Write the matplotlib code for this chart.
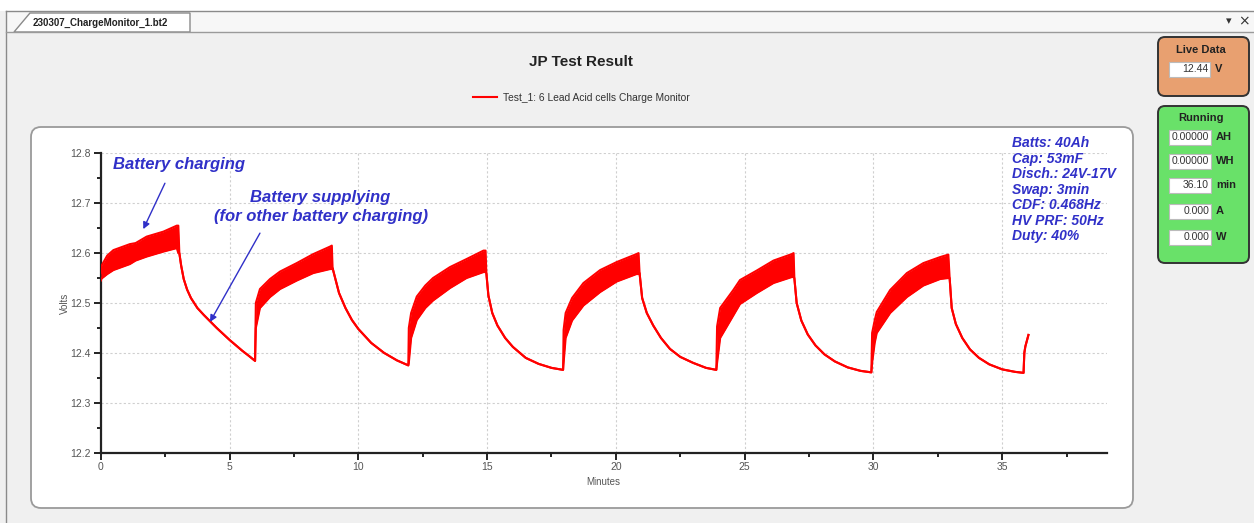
import matplotlib
matplotlib.use("Agg")
import matplotlib.pyplot as plt
from matplotlib.patches import FancyBboxPatch, Rectangle, Polygon
import numpy as np

plt.rcParams['font.family'] = ['Liberation Sans', 'DejaVu Sans']

# ---------------- data: minutes, lower / upper envelope of the volts trace ----------------
# (during discharge the trace is a single line, so lower == upper)
minutes = [
    0.00, 0.03, 0.25, 0.49, 1.13, 1.35, 1.78, 2.43, 2.95, 3.01,
    3.05, 3.12, 3.22, 3.35, 3.50, 3.75, 4.00, 4.25, 4.50, 4.75, 5.00, 5.25, 5.50, 5.75, 5.99,
    6.02, 6.18, 6.57, 6.96, 7.61, 8.25, 8.90, 8.97,
    9.00, 9.10, 9.25, 9.50, 9.75, 10.00, 10.50, 11.00, 11.50, 11.94,
    11.96, 12.05, 12.27, 12.60, 12.90, 13.56, 14.20, 14.86, 14.94,
    14.97, 15.05, 15.20, 15.40, 15.70, 16.00, 16.50, 17.00, 17.50, 17.95,
    17.97, 18.05, 18.30, 18.74, 19.39, 20.03, 20.80, 20.88,
    20.92, 21.02, 21.20, 21.45, 21.75, 22.10, 22.50, 23.00, 23.50, 23.90,
    23.93, 24.05, 24.56, 24.82, 25.47, 26.12, 26.83, 26.90,
    26.93, 27.02, 27.20, 27.45, 27.75, 28.10, 28.50, 29.00, 29.50, 29.92,
    29.95, 30.05, 30.13, 30.65, 31.30, 31.94, 32.59, 32.91,
    32.96, 33.04, 33.20, 33.45, 33.75, 34.10, 34.50, 35.00, 35.50, 35.83,
    35.86, 35.90, 36.02]
volts_low = [
    12.545, 12.549, 12.558, 12.566, 12.578, 12.585, 12.593, 12.603, 12.610, 12.600,
    12.600, 12.575, 12.548, 12.527, 12.510, 12.490, 12.476, 12.463, 12.450, 12.438, 12.426, 12.415, 12.404, 12.394, 12.384,
    12.450, 12.490, 12.512, 12.528, 12.545, 12.560, 12.568, 12.568,
    12.570, 12.550, 12.520, 12.490, 12.466, 12.448, 12.420, 12.400, 12.385, 12.375,
    12.380, 12.430, 12.466, 12.490, 12.505, 12.530, 12.550, 12.562, 12.562,
    12.560, 12.515, 12.480, 12.455, 12.430, 12.412, 12.390, 12.378, 12.370, 12.366,
    12.380, 12.430, 12.465, 12.495, 12.522, 12.543, 12.558, 12.558,
    12.560, 12.510, 12.480, 12.455, 12.430, 12.408, 12.392, 12.380, 12.370, 12.366,
    12.380, 12.430, 12.475, 12.498, 12.520, 12.540, 12.552, 12.552,
    12.550, 12.500, 12.465, 12.437, 12.415, 12.397, 12.383, 12.371, 12.364, 12.361,
    12.380, 12.420, 12.440, 12.480, 12.512, 12.535, 12.548, 12.550,
    12.550, 12.490, 12.458, 12.430, 12.407, 12.390, 12.377, 12.367, 12.362, 12.360,
    12.400, 12.413, 12.436]
volts_high = [
    12.560, 12.575, 12.595, 12.606, 12.618, 12.620, 12.633, 12.643, 12.655, 12.655,
    12.600, 12.575, 12.548, 12.527, 12.510, 12.490, 12.476, 12.463, 12.450, 12.438, 12.426, 12.415, 12.404, 12.394, 12.384,
    12.500, 12.528, 12.548, 12.563, 12.580, 12.598, 12.613, 12.615,
    12.570, 12.550, 12.520, 12.490, 12.466, 12.448, 12.420, 12.400, 12.385, 12.375,
    12.450, 12.480, 12.513, 12.535, 12.550, 12.572, 12.588, 12.605, 12.605,
    12.560, 12.515, 12.480, 12.455, 12.430, 12.412, 12.390, 12.378, 12.370, 12.366,
    12.446, 12.480, 12.510, 12.540, 12.566, 12.582, 12.598, 12.600,
    12.560, 12.510, 12.480, 12.455, 12.430, 12.408, 12.392, 12.380, 12.370, 12.366,
    12.453, 12.490, 12.526, 12.546, 12.565, 12.585, 12.598, 12.600,
    12.550, 12.500, 12.465, 12.437, 12.415, 12.397, 12.383, 12.371, 12.364, 12.361,
    12.440, 12.465, 12.482, 12.526, 12.560, 12.580, 12.592, 12.597,
    12.550, 12.490, 12.458, 12.430, 12.407, 12.390, 12.377, 12.367, 12.362, 12.360,
    12.400, 12.413, 12.436]

x_ticks = [0, 5, 10, 15, 20, 25, 30, 35]
y_ticks = [12.2, 12.3, 12.4, 12.5, 12.6, 12.7, 12.8]

info_lines = ["Batts: 40Ah", "Cap: 53mF", "Disch.: 24V-17V", "Swap: 3min",
              "CDF: 0.468Hz", "HV PRF: 50Hz", "Duty: 40%"]
live_value = "12.44"
running_values = ["0.00000", "0.00000", "36.10", "0.000", "0.000"]
running_units = ["AH", "WH", "min", "A", "W"]

series_label = "Test_1: 6 Lead Acid cells Charge Monitor"
title = "JP Test Result"

RED = '#ff0000'
BLUE = '#3030c8'

# ---------------- figure & window chrome (pixel coordinates) ----------------
W, H = 1254, 523
fig = plt.figure(figsize=(W / 100, H / 100), dpi=100, facecolor='#f0f0f0')
bg = fig.add_axes([0, 0, 1, 1], zorder=0)
bg.set_xlim(0, W)
bg.set_ylim(H, 0)
bg.axis('off')

bg.add_patch(Rectangle((0, 0), W, 11, fc='white', ec='none'))
bg.add_patch(Rectangle((6, 11), W - 6, 21, fc='#f7f7f7', ec='none'))
bg.plot([6, W], [11, 11], color='#8a8a8a', lw=1)
bg.plot([6, 6], [11, H], color='#8a8a8a', lw=1)
bg.plot([6, W], [32, 32], color='#9a9a9a', lw=1)
bg.add_patch(Polygon([[14, 32], [30, 13], [190, 13], [190, 32]], closed=True,
                     fc='white', ec='#8a8a8a', lw=1))
bg.text(33, 22.5, "230307_ChargeMonitor_1.bt2", fontsize=7, fontweight='bold',
        va='center', ha='left', color='#222222')
bg.text(1229, 21, "\u25be", fontsize=8, va='center', ha='center', color='#333333',
        family=['DejaVu Sans'])
bg.text(1244, 21, "\u00d7", fontsize=10, va='center', ha='center', color='#333333',
        family=['DejaVu Sans'])

# chart panel
bg.add_patch(FancyBboxPatch((31, 127), 1102, 381,
                            boxstyle="round,pad=0,rounding_size=10",
                            fc='white', ec='#9a9a9a', lw=1.3))

# title
bg.text(581, 62, title, fontsize=11, fontweight='bold', ha='center', va='center',
        color='#222222')

# side panels
bg.add_patch(FancyBboxPatch((1158, 37), 91, 59, boxstyle="round,pad=0,rounding_size=7",
                            fc='#e8a070', ec='#333333', lw=1.4))
bg.text(1201, 50, "Live Data", fontsize=8, fontweight='bold', ha='center',
        va='center', color='#222222')
bg.add_patch(Rectangle((1169, 62), 41, 15, fc='white', ec='#bbbbbb', lw=0.8))
bg.text(1208, 69.5, live_value, fontsize=7.5, ha='right', va='center', color='#333333')
bg.text(1215, 69.5, "V", fontsize=8, fontweight='bold', ha='left', va='center',
        color='#222222')

bg.add_patch(FancyBboxPatch((1158, 106), 91, 157, boxstyle="round,pad=0,rounding_size=7",
                            fc='#69e169', ec='#333333', lw=1.4))
bg.text(1201, 118, "Running", fontsize=8, fontweight='bold', ha='center',
        va='center', color='#222222')
row_y = [137, 161, 185, 211, 237]
for yy, val, unit in zip(row_y, running_values, running_units):
    bg.add_patch(Rectangle((1169, yy - 7.5), 42, 15, fc='white', ec='#bbbbbb', lw=0.8))
    bg.text(1209, yy, val, fontsize=7.5, ha='right', va='center', color='#333333')
    bg.text(1216, yy, unit, fontsize=8, fontweight='bold', ha='left', va='center',
            color='#222222')

# ---------------- main plot ----------------
x0, x1, ytop, ybot = 100.8, 1107.0, 153.3, 452.7
ax = fig.add_axes([x0 / W, 1 - ybot / H, (x1 - x0) / W, (ybot - ytop) / H], zorder=2)
ax.set_facecolor('none')

t = np.array(minutes)
lo = np.array(volts_low)
hi = np.array(volts_high)
ax.fill_between(t, lo, hi, color=RED, lw=0, zorder=3)
ax.plot(t, lo, color=RED, lw=1.5, zorder=3, solid_joinstyle='round')
line, = ax.plot(t, hi, color=RED, lw=1.5, zorder=3, label=series_label,
                solid_joinstyle='round')

ax.set_xlim(0, 39.07)
ax.set_ylim(12.2, 12.8)
ax.set_xticks(x_ticks)
ax.set_yticks(y_ticks)
ax.set_xticks(np.arange(0, 39, 2.5), minor=True)
ax.set_yticks(np.arange(12.2, 12.8, 0.05), minor=True)
ax.yaxis.set_major_formatter(matplotlib.ticker.FormatStrFormatter('%.1f'))
ax.grid(True, which='major', color='#cfcfcf', lw=0.8, linestyle=(0, (2, 2)))
for s in ['top', 'right']:
    ax.spines[s].set_visible(False)
for s in ['left', 'bottom']:
    ax.spines[s].set_linewidth(1.6)
    ax.spines[s].set_color('#222222')
ax.tick_params(which='major', length=5, width=1.4, color='#222222',
               labelsize=7.5, labelcolor='#555555', pad=2)
ax.tick_params(which='minor', length=3, width=1.4, color='#222222')
ax.set_xlabel("Minutes", fontsize=7, color='#555555')
ax.set_ylabel("Volts", fontsize=7, color='#555555')
ax.xaxis.set_label_coords(0.499, -0.081)
ax.yaxis.set_label_coords(-0.031, 0.5)

# legend
fig.legend(handles=[line], loc='center', bbox_to_anchor=(581 / W, 1 - 98 / H),
           frameon=False, fontsize=7.4, handlelength=2.4, handletextpad=0.5,
           labelcolor='#333333')

# annotations
ax.text(0.47, 12.777, "Battery charging", fontsize=12, fontweight='bold',
        fontstyle='italic', color=BLUE, ha='left', va='center', zorder=5)
ax.annotate("", xy=(1.65, 12.648), xytext=(2.49, 12.74),
            arrowprops=dict(arrowstyle='-|>', color=BLUE, lw=1.0,
                            mutation_scale=10, shrinkA=0, shrinkB=0), zorder=5)
ax.text(8.53, 12.712, "Battery supplying", fontsize=12, fontweight='bold',
        fontstyle='italic', color=BLUE, ha='center', va='center', zorder=5)
ax.text(8.55, 12.674, "(for other battery charging)", fontsize=12, fontweight='bold',
        fontstyle='italic', color=BLUE, ha='center', va='center', zorder=5)
ax.annotate("", xy=(4.24, 12.462), xytext=(6.18, 12.64),
            arrowprops=dict(arrowstyle='-|>', color=BLUE, lw=1.0,
                            mutation_scale=10, shrinkA=0, shrinkB=0), zorder=5)

for i, txt in enumerate(info_lines):
    ax.text(1011.5, 143.3 + i * 15.45, txt, transform=bg.transData, fontsize=10,
            fontweight='bold', fontstyle='italic', color=BLUE, ha='left',
            va='center', zorder=6, clip_on=False)

fig.savefig("out.png", dpi=100, facecolor=fig.get_facecolor())
